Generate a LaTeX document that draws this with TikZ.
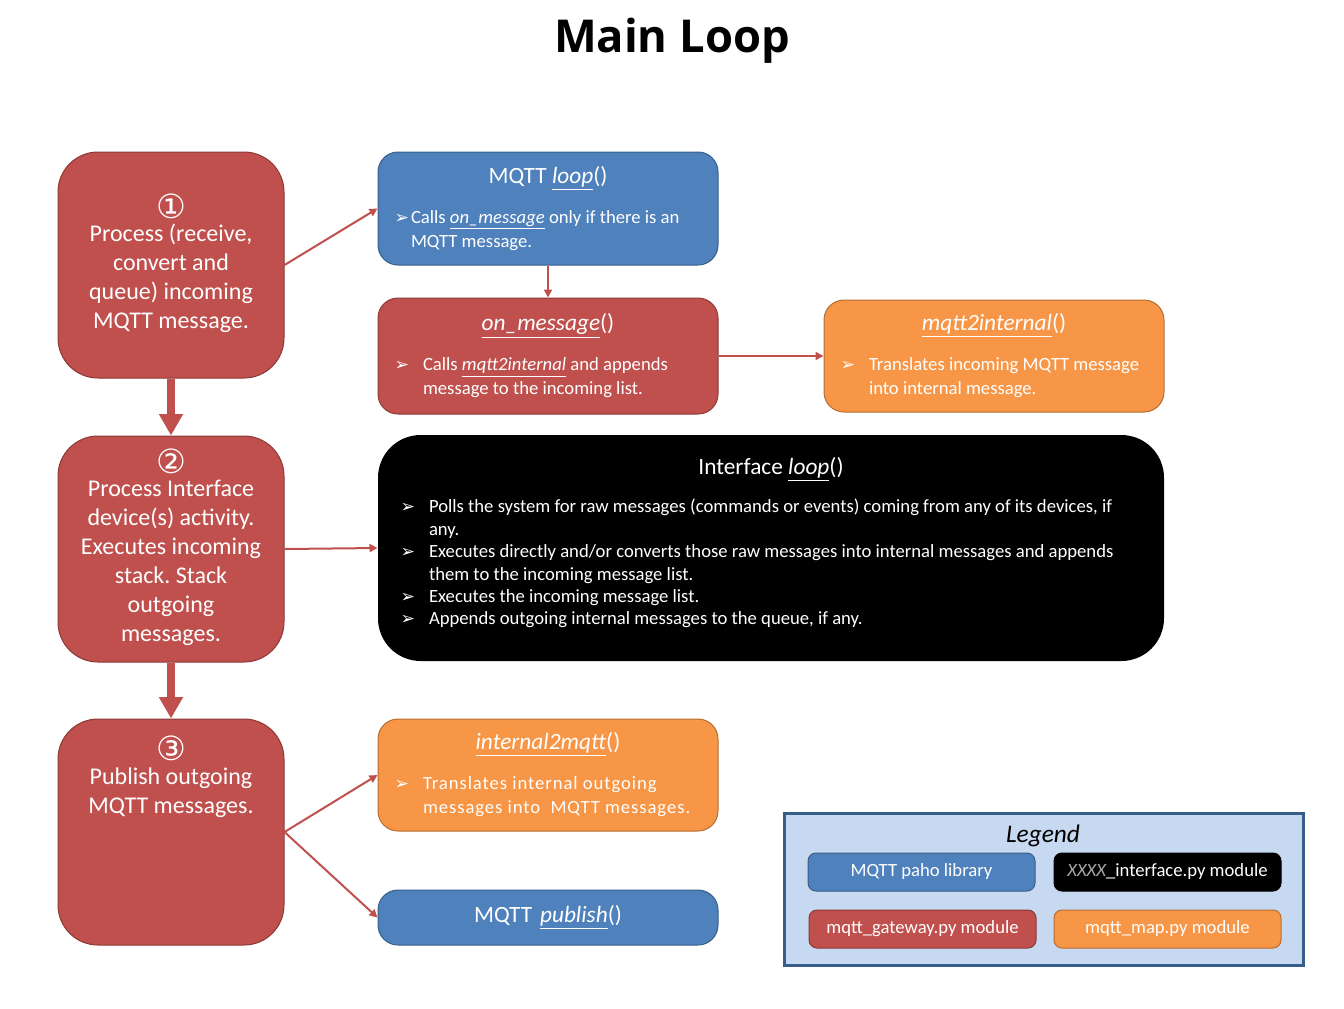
\documentclass[tikz,border=0pt]{standalone}
\usepackage{fontspec}
\setmainfont{Carlito}
\newfontfamily\dejavu{DejaVu Sans}
\newfontfamily\opensans{Open Sans}
\usetikzlibrary{
  arrows.meta,
  positioning
}
\definecolor{gwred}{HTML}{C0504D}
\definecolor{gwredline}{HTML}{8C3836}
\definecolor{pahoblue}{HTML}{4F81BD}
\definecolor{paholine}{HTML}{385D8A}
\definecolor{maporange}{HTML}{F79646}
\definecolor{mapline}{HTML}{B66D31}
\definecolor{legendfill}{HTML}{C6D9F1}
\definecolor{xxxxgray}{HTML}{A6A6A6}
\newcommand\tightsp{\spaceskip=0pt\xspaceskip=0pt\frenchspacing}
\newcommand\bulmark{{\dejavu\fontsize{13}{13}\selectfont\symbol{"27A2}}}
\newcommand\boxhead[1]{\tightsp{\centering\rmfamily\fontsize{17.5}{21}\selectfont#1\par}\vspace{12pt}}
\newcommand\bulitem[2][26.25pt]{\par\noindent\hangindent=#1\hangafter=1\makebox[#1][l]{\hspace{5pt}\bulmark}#2\par}
\newcommand\fn[1]{\underline{\textit{#1}}}
\newcommand\stepno[1]{\raisebox{-4pt}[13pt][0pt]{\dejavu\fontsize{25}{25}\selectfont#1}}
\newenvironment{steplines}{\frenchspacing\begin{tabular}{@{}c@{}}}{\end{tabular}}
\tikzset{
  fun box/.style={
    rounded corners=15pt, line width=0.75pt,
    minimum width=255pt, text width=240pt, inner xsep=7.5pt,
    align=left, text=white, font=\fontsize{14}{18}\selectfont
  },
  paho box/.style={fun box, fill=pahoblue, draw=paholine},
  gateway box/.style={fun box, fill=gwred, draw=gwredline},
  map box/.style={fun box, fill=maporange, draw=mapline},
  step box/.style={
    rounded corners=30pt, line width=0.75pt, fill=gwred, draw=gwredline,
    minimum width=169.5pt, minimum height=169.5pt, inner sep=0pt
  },
  step text/.style={
    text=white, inner sep=0pt, font=\fontsize{18}{21.75}\selectfont
  },
  key box/.style={
    rounded corners=6pt, line width=0.75pt,
    minimum width=170.25pt, minimum height=28.5pt,
    text=white, font=\fontsize{14}{17}\selectfont
  },
  thin link/.style={gwred, line width=1.5pt, -{Triangle[width=6pt,length=6pt]}},
  step link/.style={gwred, line width=6pt, -{Triangle[width=17pt,length=16pt]}}
}
\begin{document}
\begin{tikzpicture}[x=0.75pt,y=-0.75pt]
\useasboundingbox (0,0) rectangle (1344,1008);
\node (title) at (672,41) {\opensans\bfseries\fontsize{34}{40}\selectfont Main Loop};

% main loop steps
\node[step box, step text] (step1) at (171,265)
  {\begin{steplines}\stepno{①}\\Process (receive,\\convert and\\queue) incoming\\MQTT message.\end{steplines}};
\node[step box, step text] (step2) at (171,549)
  {\begin{steplines}\stepno{②}\\Process Interface\\device(s) activity.\\Executes incoming\\stack. Stack\\outgoing\\messages.\end{steplines}};
\node[step box] (step3) at (171,832) {};
\node[step text, below=12pt of step3.north] (step3txt)
  {\begin{steplines}\stepno{③}\\Publish outgoing\\MQTT messages.\end{steplines}};

% called functions
\node[paho box, minimum height=84.75pt] (mqttloop) at (548,208.5)
  {\boxhead{MQTT \fn{loop}()}%
   \bulitem[17.25pt]{Calls \fn{on\_message} only if there is an\newline MQTT message.}};
\node[gateway box, minimum height=87pt] (onmsg) at (548,356)
  {\boxhead{\fn{on\_message}()}%
   \bulitem{Calls \fn{mqtt2internal} and appends\newline message to the incoming list.}};
\node[map box, minimum height=84pt] (m2i) at (994,356)
  {\boxhead{\fn{mqtt2internal}()}%
   \bulitem{Translates incoming MQTT message\newline into internal message.}};
\node[fun box, fill=black, rounded corners=32pt, minimum width=589.5pt,
  minimum height=169.5pt, text width=565.5pt, inner xsep=12pt,
  font=\fontsize{14}{16.8}\selectfont] (iface) at (771,548)
  {\boxhead{Interface \fn{loop}()}%
   \bulitem{Polls the system for raw messages (commands or events) coming from any of its devices, if\newline any.}
   \bulitem{Executes directly and/or converts those raw messages into internal messages and appends\newline them to the incoming message list.}
   \bulitem{Executes the incoming message list.}
   \bulitem{Appends outgoing internal messages to the queue, if any.}\vspace{8pt}};
\node[map box, minimum height=84pt] (i2m) at (548,775)
  {\boxhead{\fn{internal2mqtt}()}%
   \addfontfeatures{LetterSpace=5}%
   \bulitem{Translates internal outgoing\newline messages into \ MQTT messages.}};
\node[paho box, minimum height=41.25pt, align=center,
  font=\fontsize{17.5}{21}\selectfont] (publ) at (548,917.5) {MQTT \fn{publish}()};

% legend
\node[draw=paholine, line width=2.25pt, fill=legendfill,
  minimum width=389.25pt, minimum height=114pt] (legend) at (1043.5,889) {};
\node (legendtitle) at (1043,836) {\fontsize{19}{22}\selectfont\itshape Legend};
\node[key box, fill=pahoblue, draw=paholine] (keypaho) at (921.5,872) {MQTT paho library};
\node[key box, fill=black, draw=black] (keyiface) at (1167.5,872)
  {{\itshape\color{xxxxgray}XXXX}\_interface.py module};
\node[key box, fill=gwred, draw=gwredline] (keygw) at (922.5,929) {mqtt\_gateway.py module};
\node[key box, fill=maporange, draw=mapline] (keymap) at (1167.5,929) {mqtt\_map.py module};

% connectors
\draw[step link] (step1) -- (step2);
\draw[step link] (step2) -- (step3);
\draw[thin link] (step1.east) -- (mqttloop.west);
\draw[thin link] (mqttloop) -- (onmsg);
\draw[thin link] (onmsg) -- (m2i);
\draw[thin link] (step2.east) -- (iface.west);
\draw[thin link] (step3.east) -- (i2m.west);
\draw[thin link] (step3.east) -- (publ.west);
\end{tikzpicture}
\end{document}
